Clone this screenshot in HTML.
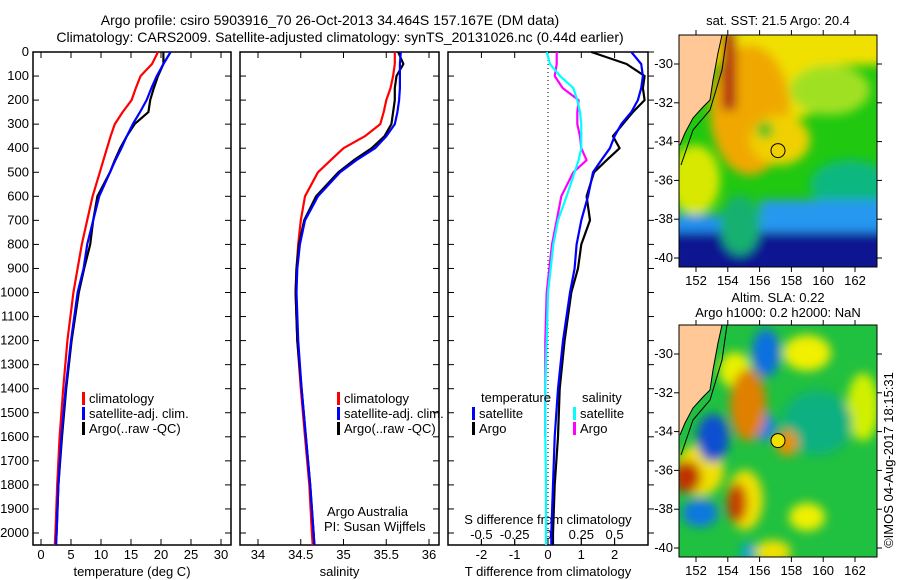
<!DOCTYPE html>
<html><head><meta charset="utf-8">
<style>
body{margin:0;background:#fff;}
svg{display:block;font-family:"Liberation Sans",sans-serif;font-size:13px;}
</style></head>
<body>
<svg id="c" width="900" height="580" viewBox="0 0 900 580">
<defs>
<filter id="bl" x="-20%" y="-20%" width="140%" height="140%"><feGaussianBlur stdDeviation="5"/></filter>
<filter id="bl2" x="-20%" y="-20%" width="140%" height="140%"><feGaussianBlur stdDeviation="3"/></filter>
<clipPath id="cm1"><rect x="679" y="35" width="198" height="232"/></clipPath>
<clipPath id="cm2"><rect x="679" y="325" width="198" height="232"/></clipPath>
</defs>
<text x="330" y="25" text-anchor="middle" style="font-size:14px">Argo profile: csiro 5903916_70 26-Oct-2013 34.464S 157.167E (DM data)</text>
<text x="340" y="42" text-anchor="middle" style="font-size:14px">Climatology: CARS2009. Satellite-adjusted climatology: synTS_20131026.nc (0.44d earlier)</text>

<!-- top map -->
<g clip-path="url(#cm1)">
<rect x="679" y="35" width="198" height="232" fill="#20c810"/>
<g filter="url(#bl)">
<rect x="690" y="25" width="200" height="40" fill="#f0e000"/>
<ellipse cx="780" cy="80" rx="60" ry="40" fill="#f0e000"/>
<ellipse cx="830" cy="90" rx="40" ry="25" fill="#a0e020"/>
<ellipse cx="750" cy="110" rx="40" ry="65" fill="#f0a800"/>
<ellipse cx="780" cy="140" rx="30" ry="25" fill="#f0d000"/>
<ellipse cx="765" cy="130" rx="8" ry="8" fill="#30c020"/>
<ellipse cx="695" cy="180" rx="25" ry="35" fill="#d8e800"/>
<ellipse cx="850" cy="185" rx="40" ry="25" fill="#10b880"/>
<rect x="760" y="200" width="130" height="40" fill="#2898f0"/>
<rect x="670" y="215" width="60" height="20" fill="#2090f0"/>
<rect x="670" y="232" width="230" height="45" fill="#081890"/>
<ellipse cx="740" cy="225" rx="20" ry="30" fill="#18b070"/>
<rect x="722" y="30" width="14" height="80" fill="#b02810"/>
</g>
<polygon points="670,30 722,35 718,53 713,80 710,100 703,107 693,118 685,133 680,145 670,150" fill="#ffc896"/>
<polyline points="722,35 718,53 713,80 710,100 703,107 693,118 685,133 680,145" fill="none" stroke="#000"/>
<polyline points="727,35 722,70 710,110 693,130 681,165" fill="none" stroke="#000"/>
<circle cx="778" cy="150.6" r="7" fill="none" stroke="#000"/>
</g>
<rect x="679" y="35" width="198" height="232" fill="none" stroke="#000"/>
<text x="778" y="25" text-anchor="middle">sat. SST: 21.5 Argo: 20.4</text>

<!-- bottom map -->
<g clip-path="url(#cm2)">
<rect x="679" y="325" width="198" height="232" fill="#20c040"/>
<g filter="url(#bl)">
<ellipse cx="807" cy="353" rx="24" ry="18" fill="#f0f000"/>
<ellipse cx="735" cy="370" rx="16" ry="18" fill="#e8f000"/>
<ellipse cx="863" cy="407" rx="16" ry="34" fill="#d0f000"/>
<ellipse cx="807" cy="517" rx="18" ry="14" fill="#f0f000"/>
<ellipse cx="773" cy="552" rx="18" ry="12" fill="#f0e000"/>
<ellipse cx="700" cy="470" rx="24" ry="26" fill="#f0e000"/>
<ellipse cx="745" cy="500" rx="18" ry="30" fill="#f0e000"/>
<ellipse cx="817" cy="423" rx="35" ry="32" fill="#10b080"/>
<ellipse cx="766" cy="353" rx="14" ry="24" fill="#1070e0"/>
<ellipse cx="713" cy="438" rx="16" ry="24" fill="#1050d0"/>
<ellipse cx="765" cy="427" rx="11" ry="14" fill="#1080e0"/>
<ellipse cx="700" cy="513" rx="18" ry="14" fill="#1078e0"/>
<ellipse cx="748" cy="552" rx="7" ry="9" fill="#10a0e0"/>
<ellipse cx="748" cy="405" rx="18" ry="36" fill="#e08000"/>
<ellipse cx="787" cy="443" rx="11" ry="13" fill="#e89000"/>
<ellipse cx="687" cy="477" rx="14" ry="16" fill="#c03000"/>
<ellipse cx="737" cy="503" rx="10" ry="20" fill="#c84000"/>
</g>
<polygon points="670,320 722,325 718,343 713,370 710,390 703,397 693,408 685,423 680,435 670,440" fill="#ffc896"/>
<polyline points="722,325 718,343 713,370 710,390 703,397 693,408 685,423 680,435" fill="none" stroke="#000"/>
<polyline points="727,325 722,360 710,400 693,420 681,455" fill="none" stroke="#000"/>
<circle cx="778" cy="440.6" r="7" fill="#f0e000" stroke="#000"/>
</g>
<rect x="679" y="325" width="198" height="232" fill="none" stroke="#000"/>
<text x="778" y="302" text-anchor="middle">Altim. SLA: 0.22</text>
<text x="778" y="317" text-anchor="middle">Argo h1000: 0.2 h2000: NaN</text>
<text transform="translate(893,460) rotate(-90)" text-anchor="middle">©IMOS 04-Aug-2017 18:15:31</text>
<g id="mapax"></g>
<g id="plots"></g>
</svg>
<script>
// ----- data -----
const depthTicks = [0,100,200,300,400,500,600,700,800,900,1000,1100,1200,1300,1400,1500,1600,1700,1800,1900,2000];
const tTicks = [0,5,10,15,20,25,30];
const sTicks = [34,34.5,35,35.5,36];
const dtTicks = [-2,-1,0,1,2];
const dsTicks = [-0.5,-0.25,0,0.25,0.5];
const dsTickLabels = ['-0.5','-0.25','0','0.25','0.5'];
const lonTicks = [152,154,156,158,160,162];
const latTicks = [-30,-32,-34,-36,-38,-40];

const depths = [0,50,100,150,200,250,300,350,400,450,500,600,700,800,900,1000,1200,1400,1600,1800,2000,2050];
const tClim = [19.5,18.5,16.6,15.8,15.1,13.6,12.3,11.6,11.0,10.4,9.8,8.6,7.7,6.8,6.1,5.4,4.4,3.7,3.1,2.7,2.4,2.3];
const tSat  = [21.6,20.4,19.3,18.4,17.6,16.5,15.3,14.3,13.4,12.4,11.5,9.7,8.7,7.7,7.1,6.1,5.0,4.1,3.4,2.9,2.6,2.5];
const tArgo = [20.4,20.4,19.5,18.8,18.2,17.9,15.6,14.3,13.2,12.3,11.5,9.4,8.7,8.2,7.2,6.3,5.1,4.2,3.5,2.9,2.6,2.5];
const sClim = [35.6,35.6,35.58,35.55,35.5,35.47,35.43,35.25,35.0,34.85,34.7,34.55,34.5,34.47,34.45,34.44,34.46,34.5,34.55,34.6,34.63,34.64];
const sSat  = [35.67,35.66,35.66,35.66,35.65,35.63,35.6,35.5,35.37,35.15,34.96,34.7,34.55,34.49,34.46,34.45,34.47,34.51,34.56,34.61,34.65,34.66];
const sArgo = [35.64,35.7,35.62,35.6,35.6,35.58,35.56,35.48,35.33,35.12,34.94,34.68,34.54,34.48,34.45,34.44,34.46,34.51,34.56,34.61,34.65,34.66];
const dtSat  = [2.5,2.8,2.85,2.8,2.7,2.5,2.2,2.0,1.86,1.6,1.35,1.2,1.0,0.86,0.8,0.66,0.45,0.3,0.2,0.15,0.1,0.1];
const dtArgo = [1.3,2.36,2.9,2.85,2.9,2.55,2.25,1.95,2.15,1.76,1.38,1.16,1.26,1.0,0.9,0.7,0.5,0.35,0.3,0.2,0.15,0.15];
const dsSat  = [-0.01,0.015,0.09,0.19,0.22,0.24,0.25,0.25,0.25,0.23,0.2,0.14,0.075,0.04,0.02,0,-0.01,-0.02,-0.02,-0.015,-0.015,-0.015];
const dsArgo = [0.065,0.065,0.05,0.11,0.23,0.22,0.22,0.24,0.25,0.29,0.19,0.1,0.065,0.03,0.01,-0.01,-0.02,-0.02,-0.02,null,null,null];

// ----- geometry -----
const Y0 = 52, Y1 = 545;
const yD = d => Y0 + d*0.2405;
const panels = [
 {x0:33, x1:231, f:v=>41+v*6, name:'temperature'},
 {x0:240, x1:439, f:v=>258+(v-34)*85.5, name:'salinity'},
 {x0:448, x1:648, f:v=>548+v*33.3, name:'difference'}
];
const fS = v => 548 + v*133.2;
const NS = 'http://www.w3.org/2000/svg';
const root = document.getElementById('plots');
function mk(tag, attrs, parent){
  const e = document.createElementNS(NS, tag);
  for (const k in attrs) e.setAttribute(k, attrs[k]);
  (parent||root).appendChild(e);
  return e;
}
function line(parent, x1,y1,x2,y2,c,w,dash){
  const e = mk('line',{x1:x1,y1:y1,x2:x2,y2:y2,stroke:c||'#000','stroke-width':w||1},parent);
  if (dash) e.setAttribute('stroke-dasharray',dash);
  return e;
}
function txt(parent,x,y,s,anchor){
  const e = mk('text',{x:x,y:y,'text-anchor':anchor||'start'},parent);
  e.textContent = s;
  return e;
}
function series(parent, xs, fx, color, nm){
  let d = '', started=false;
  for (let i=0;i<depths.length;i++){
    if (xs[i]===null) { started=false; continue; }
    d += (started?'L':'M') + fx(xs[i]).toFixed(1) + ',' + yD(depths[i]).toFixed(1);
    started = true;
  }
  const p = mk('path',{d:d,fill:'none',stroke:color,'stroke-width':2.2,'stroke-linejoin':'round'},parent);
  
  
  return p;
}

panels.forEach((p,pi)=>{
  const g = mk('g',{});
  
  
  const fr = mk('rect',{x:p.x0,y:Y0,width:p.x1-p.x0,height:Y1-Y0,fill:'none',stroke:'#000','stroke-width':1.5},g);
  
  
  depthTicks.forEach(d=>{
    const y = yD(d);
    line(g,p.x0,y,p.x0+6,y);
    if (pi<2) line(g,p.x1-6,y,p.x1,y); else line(g,p.x1,y,p.x1+6,y);
    if (pi===0) {
      const t = txt(g,29,y+4,String(d),'end');
      
      
    }
  });
  const ticks = pi===0?tTicks:pi===1?sTicks:dtTicks;
  ticks.forEach(v=>{
    const x = p.f(v);
    line(g,x,Y0,x,Y0+6); line(g,x,Y1-6,x,Y1);
    const t = txt(g,x,559,String(v),'middle');
    
    
  });
  if (pi===2){
    line(g,548,Y0,548,Y1,'#000',1,'1,3');
    dsTicks.forEach((v,i)=>{
      const x = fS(v);
      line(g,x,Y1-6,x,Y1);
      const t = txt(g,x,539,dsTickLabels[i],'middle');
      
      
    });
    const st = txt(g,548,524,'S difference from climatology','middle');
    
    
  }
  const titles = ['temperature (deg C)','salinity','T difference from climatology'];
  const at = txt(g,(p.x0+p.x1)/2,576,titles[pi],'middle');
  
  
  p.g = g;
});

// series
series(panels[0].g, tClim, panels[0].f, '#ff0000', 'temp-climatology-line');
series(panels[0].g, tArgo, panels[0].f, '#000000', 'temp-argo-line');
series(panels[0].g, tSat, panels[0].f, '#0000ff', 'temp-satellite-line');
series(panels[1].g, sClim, panels[1].f, '#ff0000', 'sal-climatology-line');
series(panels[1].g, sArgo, panels[1].f, '#000000', 'sal-argo-line');
series(panels[1].g, sSat, panels[1].f, '#0000ff', 'sal-satellite-line');
series(panels[2].g, dsArgo, fS, '#ff00ff', 'sdiff-argo-line');
series(panels[2].g, dsSat, fS, '#00ffff', 'sdiff-satellite-line');
series(panels[2].g, dtArgo, panels[2].f, '#000000', 'tdiff-argo-line');
series(panels[2].g, dtSat, panels[2].f, '#0000ff', 'tdiff-satellite-line');

// legends
function legend(parent, x, y, items){
  items.forEach((it,i)=>{
    const yy = y + i*15;
    const r = mk('rect',{x:x,y:yy-10,width:3,height:13,fill:it[1]},parent);
    
    
    const t = txt(parent,x+7,yy+1,it[0]);
    
    
  });
}
const lg = [['climatology','#ff0000'],['satellite-adj. clim.','#0000ff'],['Argo(..raw -QC)','#000000']];
legend(panels[0].g, 82, 402, lg);
legend(panels[1].g, 337, 402, lg);
let tt = txt(panels[2].g,481,402,'temperature');  
tt = txt(panels[2].g,582,402,'salinity');  
legend(panels[2].g, 472, 417, [['satellite','#0000ff'],['Argo','#000000']]);
legend(panels[2].g, 573, 417, [['satellite','#00ffff'],['Argo','#ff00ff']]);
tt = txt(panels[1].g,327,516,'Argo Australia');  
tt = txt(panels[1].g,324,531,'PI: Susan Wijffels');  

// map axes
const mg = document.getElementById('mapax');
[[35,267,64],[325,557,354]].forEach((m,mi)=>{
  lonTicks.forEach(v=>{
    const x = 696 + (v-152)*15.9;
    line(mg,x,m[0],x,m[0]-5); line(mg,x,m[1],x,m[1]+5);
    const t = txt(mg,x,m[1]+18,String(v),'middle');
    
    
  });
  latTicks.forEach(v=>{
    const y = m[2] + (-30 - v)*19.4;
    line(mg,679,y,674,y); line(mg,877,y,882,y);
    const t = txt(mg,673,y+4,String(v),'end');
    
    
  });
});
</script>
</body></html>
